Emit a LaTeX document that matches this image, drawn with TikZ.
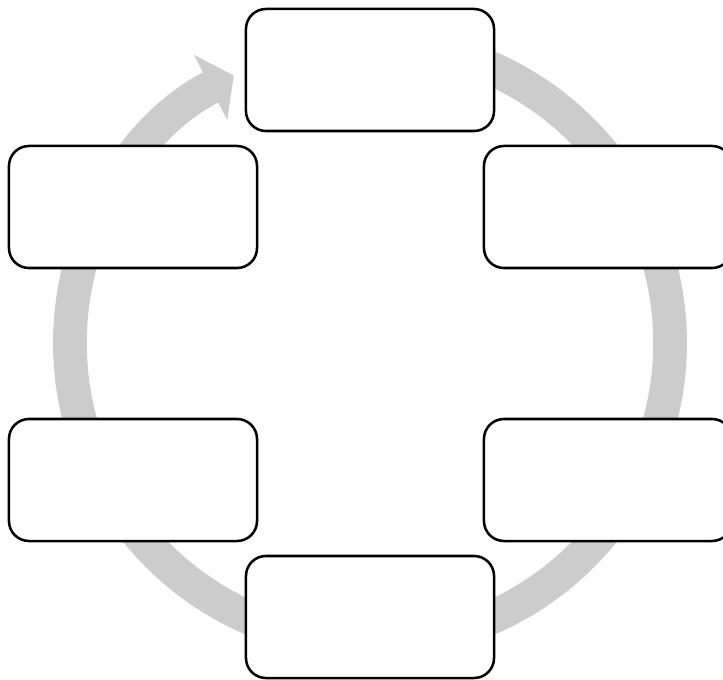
\documentclass[tikz,border=0pt]{standalone}
\usepackage{tikz}
\usetikzlibrary{arrows.meta,calc}
\definecolor{ringgray}{RGB}{204,204,204}

\begin{document}
\begin{tikzpicture}[x=0.025cm,y=0.025cm]
	\def\rad{7.5cm}

	\tikzset{line/.style={draw,line width=1.8pt}}
	\tikzset{ring/.style={draw=ringgray,line width=24pt,-{Triangle[length=0.65cm,width=1.8cm]}}}
	\tikzset{stage/.style={line,fill=white,rounded corners=0.5cm,minimum width=6.2cm,minimum height=3.05cm,inner sep=0pt}}

	\useasboundingbox (0,0) rectangle (723,679);

	\coordinate (c) at (370,336);

	% cycle behind the boxes
	\draw[ring] ($(c)+(90:\rad)$) arc[start angle=90,end angle=-243,radius=\rad];

	\node[stage] (s1) at (370,609) {};
	\node[stage] (s2) at (608,472) {};
	\node[stage] (s3) at (608,199) {};
	\node[stage] (s4) at (370,62) {};
	\node[stage] (s5) at (133,199) {};
	\node[stage] (s6) at (133,472) {};
\end{tikzpicture}
\end{document}
